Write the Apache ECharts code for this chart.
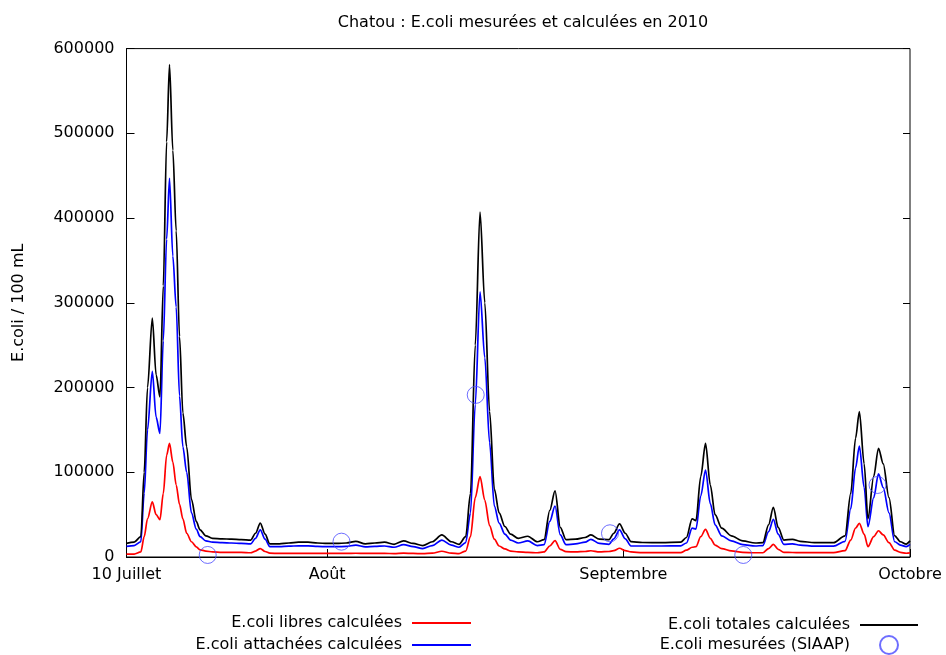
<!DOCTYPE html>
<html><head><meta charset="utf-8">
<script src="https://cdn.jsdelivr.net/npm/echarts@6/dist/echarts.min.js"></script>
<style>html,body{margin:0;padding:0;background:#fff}#c{width:946px;height:655px}</style>
</head><body><div id="c"></div>
<script>
const days = [0,0.8,1.5,1.85,2.2,2.7,3.1,3.5,3.85,4.2,4.5,4.85,5.2,5.55,5.9,6.3,6.8,7.3,7.7,8.3,9,10,11,12,13,13.5,14,14.5,15,16,17,18,19,20,21,22,23,24,25,26,27,28,29,30,31,32,33,34,34.8,35.5,36,36.5,37,37.5,38,38.5,39,39.6,40.2,41,42,43,43.7,44.3,44.85,45.4,46,47,48,48.6,49.5,50.5,51,51.6,52.2,52.8,54,56,58,58.6,59.2,59.6,60.1,60.6,61.1,61.6,62.3,63.3,64.5,65.8,66.6,67.2,67.7,68.2,68.8,69.7,70.5,72,74,75.2,75.8,76.3,76.7,77.2,77.6,78.2,78.7,79.2,79.8,80.4,81,81.6,82];
const totales = [16000,17500,24000,100000,200000,282000,215000,189000,320000,490000,581000,480000,385000,260000,170000,130000,68000,42000,32000,25000,22000,21500,21000,20500,20000,28000,40000,27000,15500,15500,16500,17500,17500,16500,16000,16000,16500,18500,15500,16500,17500,15000,19000,16000,13500,18000,26000,18000,15000,24000,75000,250000,407000,300000,172000,80000,52000,36000,27000,22000,24500,18000,20500,55000,78000,35000,20500,21000,23000,26000,21000,20500,28000,39000,28000,18100,17100,17000,17500,23000,45000,43000,95000,134000,85000,50000,34000,25000,19000,16500,17000,38000,58700,35000,20000,20900,18500,16900,16900,25000,75000,140000,171500,110000,45000,95000,128300,110000,70000,25000,18000,15300,19000];
const attachees = [12500,13500,18000,75000,150000,219000,165000,146000,255000,375000,447000,355000,295000,190000,130000,100000,52000,33000,24000,19000,17500,17000,16500,16000,15500,22000,32000,21000,12200,12200,12800,13200,13200,12500,12200,12200,12500,14000,12000,12500,13000,11500,14500,12200,10000,13500,20000,14000,11500,17000,52000,180000,313000,235000,135000,60000,40000,27000,20000,16500,19000,13500,14500,42000,60200,26000,14500,15500,17500,20900,16000,15000,21500,31900,21500,13000,13000,13000,13200,16500,34000,33000,72000,102700,63000,38000,25000,19000,14500,13000,13500,30000,44500,27000,15000,15500,14000,12800,12800,18500,57000,105000,131000,82000,35800,70000,98000,82000,52000,18000,14000,12200,15000];
const libres = [3500,3500,6000,24000,45000,65000,50000,44000,75000,120000,134000,112000,85000,62000,45000,28000,18000,12000,8500,7000,6000,5500,5500,5500,5000,7000,10000,6500,4500,4200,4200,4200,4200,4200,4200,4200,4200,4400,4200,4300,4300,4000,4500,4200,4000,4500,6800,4500,4000,7000,24000,70000,94800,67000,37000,21000,13000,9500,7000,6000,5500,5000,6000,13000,19300,9000,6300,6000,6500,7400,6000,6500,7500,10300,7500,6000,5100,5100,5100,8000,11500,12200,24000,32700,22000,14000,10000,7200,5500,5000,5000,10000,15000,9000,5500,5300,5100,5100,5100,7500,20000,34000,39800,27000,12200,24000,31000,26000,17000,8000,5500,4400,4800];
const mesDays = [8.5, 22.5, 36.55, 50.6, 64.55, 78.6];
const mesVals = [2400, 18100, 191300, 28000, 2400, 85000];
const tickDays = [0, 21, 52, 82];
const tickLabels = ['10 Juillet', 'Août', 'Septembre', 'Octobre'];

const FONT = 'DejaVu Sans';
const pair = (xs, ys) => xs.map((d, i) => [d, ys[i]]);
const chart = echarts.init(document.getElementById('c'), null, {renderer: 'canvas'});
const txt = {fontFamily: FONT, fontSize: 16, color: '#000'};
const hideSym = {color: 'transparent', borderColor: 'transparent', borderWidth: 0};
const lineSeries = (name, ys, color, z) => ({
  name, type: 'line', data: pair(days, ys), symbol: 'none', smooth: 0.3, smoothMonotone: 'x',
  lineStyle: {color, width: 1.7}, itemStyle: {color}, z
});
chart.setOption({
  animation: false,
  backgroundColor: '#fff',
  title: {
    text: 'Chatou : E.coli mesurées et calculées en 2010',
    left: 518, top: 10, textAlign: 'center',
    textStyle: Object.assign({fontWeight: 'normal'}, txt)
  },
  grid: {left: 126.5, right: 36, top: 48.6, bottom: 98, show: true, borderColor: '#000', borderWidth: 1, backgroundColor: 'transparent'},
  legend: [
    {data: [{name: 'E.coli libres calculées', itemStyle: hideSym}, {name: 'E.coli attachées calculées', itemStyle: hideSym}],
     orient: 'vertical', align: 'right',
     right: 474, top: 615, height: 60, itemWidth: 59, itemHeight: 14, itemGap: 6, padding: 0,
     textStyle: Object.assign({padding: [0, 5, 0, 0]}, txt)},
    {data: [{name: 'E.coli totales calculées', itemStyle: hideSym}, 'E.coli mesurées (SIAAP)'],
     orient: 'vertical', align: 'right',
     right: 27, top: 617, height: 60, itemWidth: 58, itemHeight: 18, itemGap: 2, padding: 0,
     textStyle: Object.assign({padding: [0, 5, 0, 0]}, txt)}
  ],
  xAxis: {
    type: 'value', min: 0, max: 82,
    axisLine: {show: true, lineStyle: {color: '#000', width: 1}},
    axisTick: {show: true, inside: true, length: 8, customValues: tickDays, lineStyle: {color: '#000'}},
    axisLabel: {show: true, customValues: tickDays, margin: 10,
      formatter: v => tickLabels[tickDays.indexOf(v)] || '', fontFamily: FONT, fontSize: 16, color: '#000'},
    splitLine: {show: false}
  },
  yAxis: [
    {type: 'value', min: 0, max: 600000, interval: 100000,
     name: 'E.coli / 100 mL', nameLocation: 'middle', nameGap: 100, nameRotate: 90,
     nameTextStyle: txt,
     axisLine: {show: true, lineStyle: {color: '#000'}},
     axisTick: {show: true, inside: true, length: 8, lineStyle: {color: '#000'}},
     axisLabel: {margin: 12, formatter: v => String(v), fontFamily: FONT, fontSize: 16, color: '#000'},
     splitLine: {show: false}},
    {type: 'value', min: 0, max: 600000, interval: 100000, position: 'right',
     axisLine: {show: false},
     axisTick: {show: true, inside: true, length: 7, lineStyle: {color: '#000'}},
     axisLabel: {show: false}, splitLine: {show: false}}
  ],
  series: [
    lineSeries('E.coli libres calculées', libres, '#ff0000', 2),
    lineSeries('E.coli attachées calculées', attachees, '#0000ff', 3),
    lineSeries('E.coli totales calculées', totales, '#000000', 4),
    {name: 'E.coli mesurées (SIAAP)', type: 'scatter', data: pair(mesDays, mesVals), symbol: 'circle', symbolSize: 17,
     itemStyle: {color: 'transparent', borderColor: '#4a4aff', borderWidth: 1}, z: 5}
  ]
});
</script></body></html>
